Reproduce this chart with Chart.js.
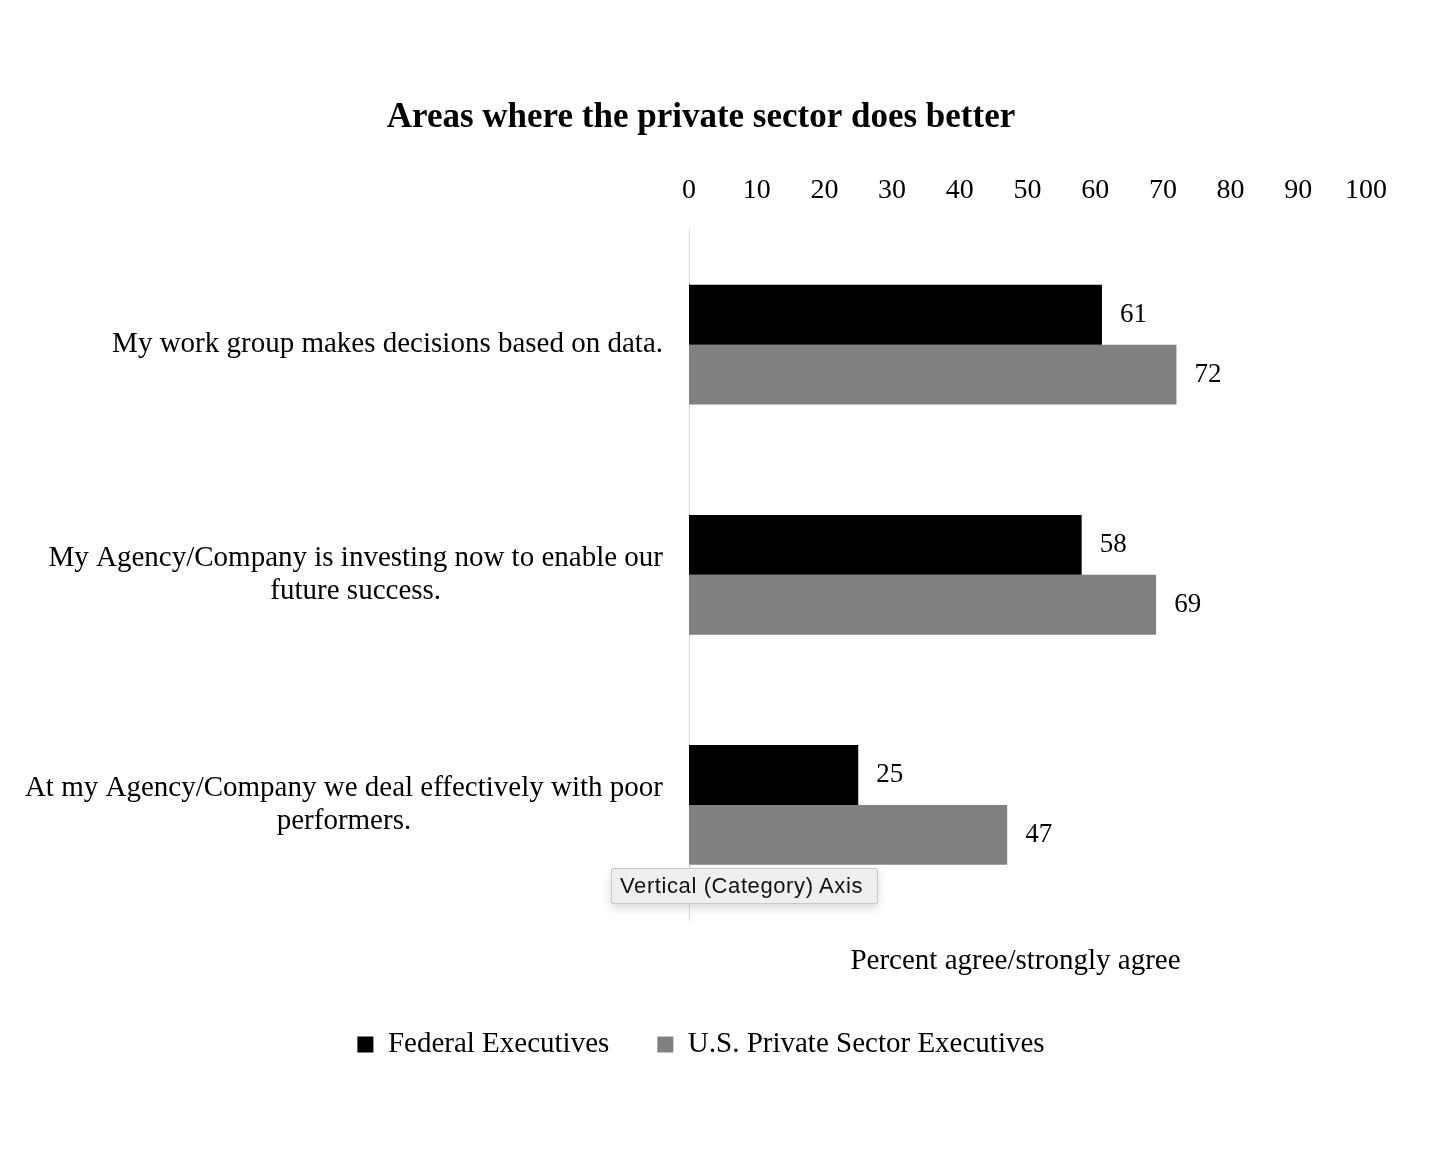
<!DOCTYPE html>
<html>
<head>
<meta charset="utf-8">
<script src="https://cdn.jsdelivr.net/npm/chart.js@4/dist/chart.umd.min.js"></script>
<style>
  html, body { margin: 0; padding: 0; background: #ffffff; }
  #wrap { position: relative; width: 1442px; height: 1152px; }
  #tip {
    position: absolute; left: 611px; top: 868px; width: 257px; height: 34px;
    background: #efefef; border: 1px solid #c9c9c9; border-radius: 2px;
    box-shadow: 0 4px 10px rgba(0,0,0,0.15);
    font-family: 'Liberation Sans', Arial, sans-serif; font-size: 22px; letter-spacing: 0.6px; color: #111;
    line-height: 34px; padding-left: 8px; box-sizing: content-box; white-space: nowrap;
  }
</style>
</head>
<body>
<div id="wrap">
  <canvas id="c" width="1442" height="1152"></canvas>
  <div id="tip">Vertical (Category) Axis</div>
</div>
<script>
const categories = [
  ["My work group makes decisions based on data."],
  ["My Agency/Company is investing now to enable our", "future success."],
  ["At my Agency/Company we deal effectively with poor", "performers."]
];
const federalValues = [61, 58, 25];
const privateValues = [72, 69, 47];
const seriesNames = ["Federal Executives", "U.S. Private Sector Executives"];
const xTicks = [0, 10, 20, 30, 40, 50, 60, 70, 80, 90, 100];
const chartTitle = "Areas where the private sector does better";
const xAxisTitle = "Percent agree/strongly agree";

const FONT = "'Liberation Serif', 'DejaVu Serif', serif";

const labelPlugin = {
  id: 'labelPlugin',
  afterDatasetsDraw(chart) {
    const ctx = chart.ctx;
    ctx.save();
    ctx.fillStyle = '#000';
    ctx.textBaseline = 'middle';
    // value labels
    ctx.font = '27px ' + FONT;
    ctx.textAlign = 'left';
    chart.data.datasets.forEach((ds, i) => {
      const meta = chart.getDatasetMeta(i);
      meta.data.forEach((bar, j) => {
        ctx.fillText(String(ds.data[j]), bar.x + 18, bar.y);
      });
    });
    // category labels
    ctx.font = '29px ' + FONT;
    const yScale = chart.scales.y;
    const right = chart.chartArea.left - 26;
    const lh = 33;
    categories.forEach((lines, j) => {
      const cy = yScale.getPixelForValue(j);
      let w = 0;
      lines.forEach(l => { w = Math.max(w, ctx.measureText(l).width); });
      const cx = right - w / 2;
      ctx.textAlign = 'center';
      lines.forEach((l, k) => {
        const y = cy + (k - (lines.length - 1) / 2) * lh;
        ctx.fillText(l, cx, y);
      });
    });
    // value axis title (below plot)
    ctx.font = '29px ' + FONT;
    ctx.textAlign = 'center';
    const xs = chart.scales.x;
    ctx.fillText(xAxisTitle, (xs.left + xs.right) / 2 - 12, chart.chartArea.bottom + 41);
    ctx.restore();
  }
};

new Chart(document.getElementById('c'), {
  type: 'bar',
  data: {
    labels: categories.map(c => c.join(' ')),
    datasets: [
      { label: seriesNames[0], data: federalValues, backgroundColor: '#000000', categoryPercentage: 0.52, barPercentage: 1.0 },
      { label: seriesNames[1], data: privateValues, backgroundColor: '#808080', categoryPercentage: 0.52, barPercentage: 1.0 }
    ]
  },
  options: {
    indexAxis: 'y',
    responsive: false,
    animation: false,
    layout: { padding: { top: 97, bottom: 83, left: 36, right: 76 } },
    plugins: {
      title: {
        display: true, text: chartTitle, color: '#000',
        font: { family: FONT, size: 35, weight: 'bold' },
        padding: { top: 0, bottom: 13 }
      },
      legend: {
        position: 'bottom',
        labels: {
          color: '#000', boxWidth: 16, boxHeight: 16, padding: 48,
          font: { family: FONT, size: 29 }
        }
      },
      tooltip: { enabled: false }
    },
    scales: {
      x: {
        position: 'top', min: 0, max: 100,
        afterBuildTicks: (s) => { s.ticks = xTicks.map(v => ({ value: v })); },
        ticks: { color: '#000', font: { family: FONT, size: 28 }, padding: 22 },
        grid: { display: false, drawTicks: false },
        border: { display: false }
      },
      x2: {
        position: 'bottom', axis: 'x', min: 0, max: 100,
        ticks: { display: false },
        grid: { display: false, drawTicks: false },
        border: { display: false },
        afterFit: (s) => { s.height = 62; }
      },
      y: {
        ticks: { display: false },
        grid: { display: false, drawTicks: false },
        border: { display: true, color: '#d9d9d9', width: 1 },
        afterFit: (s) => { s.width = 653; }
      }
    }
  },
  plugins: [labelPlugin]
});
</script>
</body>
</html>
